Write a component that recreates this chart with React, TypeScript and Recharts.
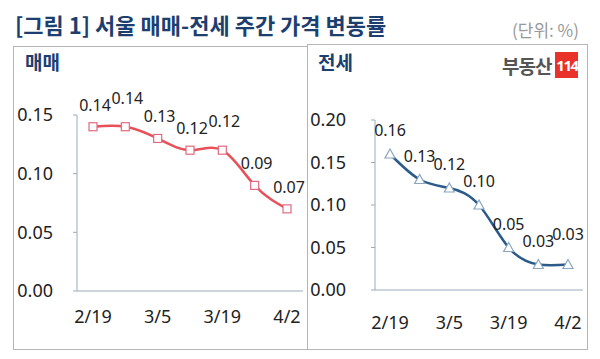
import React from "react";
import { LineChart, Line, XAxis, YAxis, LabelList } from "recharts";

const weeks = ["2/19", "2/26", "3/5", "3/12", "3/19", "3/26", "4/2"];
const saleChange = [0.14, 0.14, 0.13, 0.12, 0.12, 0.09, 0.07];
const jeonseChange = [0.16, 0.13, 0.12, 0.1, 0.05, 0.03, 0.03];
const saleTicks = [0, 0.05, 0.1, 0.15];
const jeonseTicks = [0, 0.05, 0.1, 0.15, 0.2];

const saleData = weeks.map((w, i) => ({ week: w, value: saleChange[i] }));
const jeonseData = weeks.map((w, i) => ({ week: w, value: jeonseChange[i] }));

const NAVY = "#1c3f70";
const AXIS = "#9aabbf";
const NUM_FONT = "'Noto Sans', 'Open Sans', sans-serif";
const KR_FONT = "'Noto Sans CJK KR', 'Noto Sans', sans-serif";

const fmt = (v: number) => v.toFixed(2);

function SquareDot(props: any) {
  const { cx, cy } = props;
  if (cx == null || cy == null) return null;
  return (
    <rect x={cx - 4} y={cy - 4} width={8} height={8} fill="#fff" stroke="#e06a80" strokeWidth={1.2} />
  );
}

function TriangleDot(props: any) {
  const { cx, cy } = props;
  if (cx == null || cy == null) return null;
  return (
    <path
      d={`M${cx},${cy - 5} L${cx + 5},${cy + 4} L${cx - 5},${cy + 4} Z`}
      fill="#fff"
      stroke="#8aa6c0"
      strokeWidth={1.2}
    />
  );
}

// labels sit above the point; when the previous point has the same value
// the label is lifted a bit so the two don't run together
function makeLabel(values: number[], dx: number, dy: number) {
  return (props: any) => {
    const { x, y, value, index } = props;
    const lift = index > 0 && values[index - 1] === values[index] ? 7 : 0;
    return (
      <text x={x + dx} y={y + dy - lift} textAnchor="middle" fontSize={16} fontFamily={NUM_FONT} fill="#222">
        {fmt(value)}
      </text>
    );
  };
}

const tickStyle = { fontSize: 18, fontFamily: NUM_FONT, fill: "#222" };

export default function App() {
  return (
    <div
      style={{
        position: "absolute",
        left: 0,
        top: 0,
        width: 600,
        height: 359,
        background: "#fff",
        overflow: "hidden",
        fontFamily: KR_FONT,
      }}
    >
      <div
        style={{
          position: "absolute",
          left: 15,
          top: 9,
          fontSize: 22,
          fontWeight: 700,
          color: NAVY,
          whiteSpace: "nowrap",
          lineHeight: "30px",
        }}
      >
        [그림 1] 서울 매매-전세 주간 가격 변동률
      </div>
      <div
        style={{
          position: "absolute",
          left: 512,
          top: 19,
          fontSize: 17,
          color: "#999",
          lineHeight: "22px",
          whiteSpace: "nowrap",
        }}
      >
        (단위: %)
      </div>

      {/* panels */}
      <div
        style={{
          position: "absolute",
          left: 13,
          top: 46,
          width: 293,
          height: 302,
          border: "1px solid #b5b5b5",
        }}
      />
      <div
        style={{
          position: "absolute",
          left: 307,
          top: 44,
          width: 279,
          height: 304,
          border: "1px solid #b5b5b5",
        }}
      />
      <div
        style={{ position: "absolute", left: 25, top: 49, fontSize: 19, fontWeight: 700, color: NAVY, lineHeight: "26px" }}
      >
        매매
      </div>
      <div
        style={{ position: "absolute", left: 318, top: 49, fontSize: 19, fontWeight: 700, color: NAVY, lineHeight: "26px" }}
      >
        전세
      </div>

      {/* logo */}
      <div
        style={{
          position: "absolute",
          left: 502,
          top: 52,
          height: 26,
          display: "flex",
          alignItems: "center",
          whiteSpace: "nowrap",
        }}
      >
        <span style={{ fontSize: 19, fontWeight: 700, color: "#555", letterSpacing: -1 }}>부동산</span>
        <span
          style={{
            marginLeft: 4,
            background: "#e8322a",
            color: "#fff",
            fontFamily: NUM_FONT,
            fontSize: 15,
            fontWeight: 700,
            width: 23,
            height: 26,
            lineHeight: "26px",
            textAlign: "center",
            letterSpacing: -1.5,
          }}
        >
          114
        </span>
      </div>

      <div style={{ position: "absolute", left: 0, top: 0 }}>
        <LineChart width={320} height={359} data={saleData} margin={{ top: 115, right: 17, bottom: 28, left: 0 }}>
          <XAxis
            dataKey="week"
            interval={1}
            padding={{ left: 16, right: 16 }}
            tickLine={false}
            tickMargin={13}
            height={40}
            stroke={AXIS}
            tick={tickStyle}
          />
          <YAxis
            width={77}
            domain={[0, 0.15]}
            ticks={saleTicks}
            tickFormatter={fmt}
            tickSize={4}
            tickMargin={20}
            stroke={AXIS}
            tick={tickStyle}
          />
          <Line
            type="natural"
            dataKey="value"
            stroke="#e8505a"
            strokeWidth={2.5}
            dot={<SquareDot />}
            activeDot={false}
            isAnimationActive={false}
          >
            <LabelList dataKey="value" content={makeLabel(saleChange, 2, -16)} />
          </Line>
        </LineChart>
      </div>

      <div style={{ position: "absolute", left: 308, top: 0 }}>
        <LineChart width={280} height={359} data={jeonseData} margin={{ top: 120, right: 5, bottom: 29, left: 0 }}>
          <XAxis
            dataKey="week"
            interval={1}
            padding={{ left: 15, right: 15 }}
            tickLine={false}
            tickMargin={20}
            height={40}
            stroke={AXIS}
            tick={tickStyle}
          />
          <YAxis
            width={67}
            domain={[0, 0.2]}
            ticks={jeonseTicks}
            tickFormatter={fmt}
            tickSize={4}
            tickMargin={25}
            stroke={AXIS}
            tick={tickStyle}
          />
          <Line
            type="natural"
            dataKey="value"
            stroke="#2a5b8a"
            strokeWidth={2.5}
            dot={<TriangleDot />}
            activeDot={false}
            isAnimationActive={false}
          >
            <LabelList dataKey="value" content={makeLabel(jeonseChange, 0, -18)} />
          </Line>
        </LineChart>
      </div>
    </div>
  );
}
